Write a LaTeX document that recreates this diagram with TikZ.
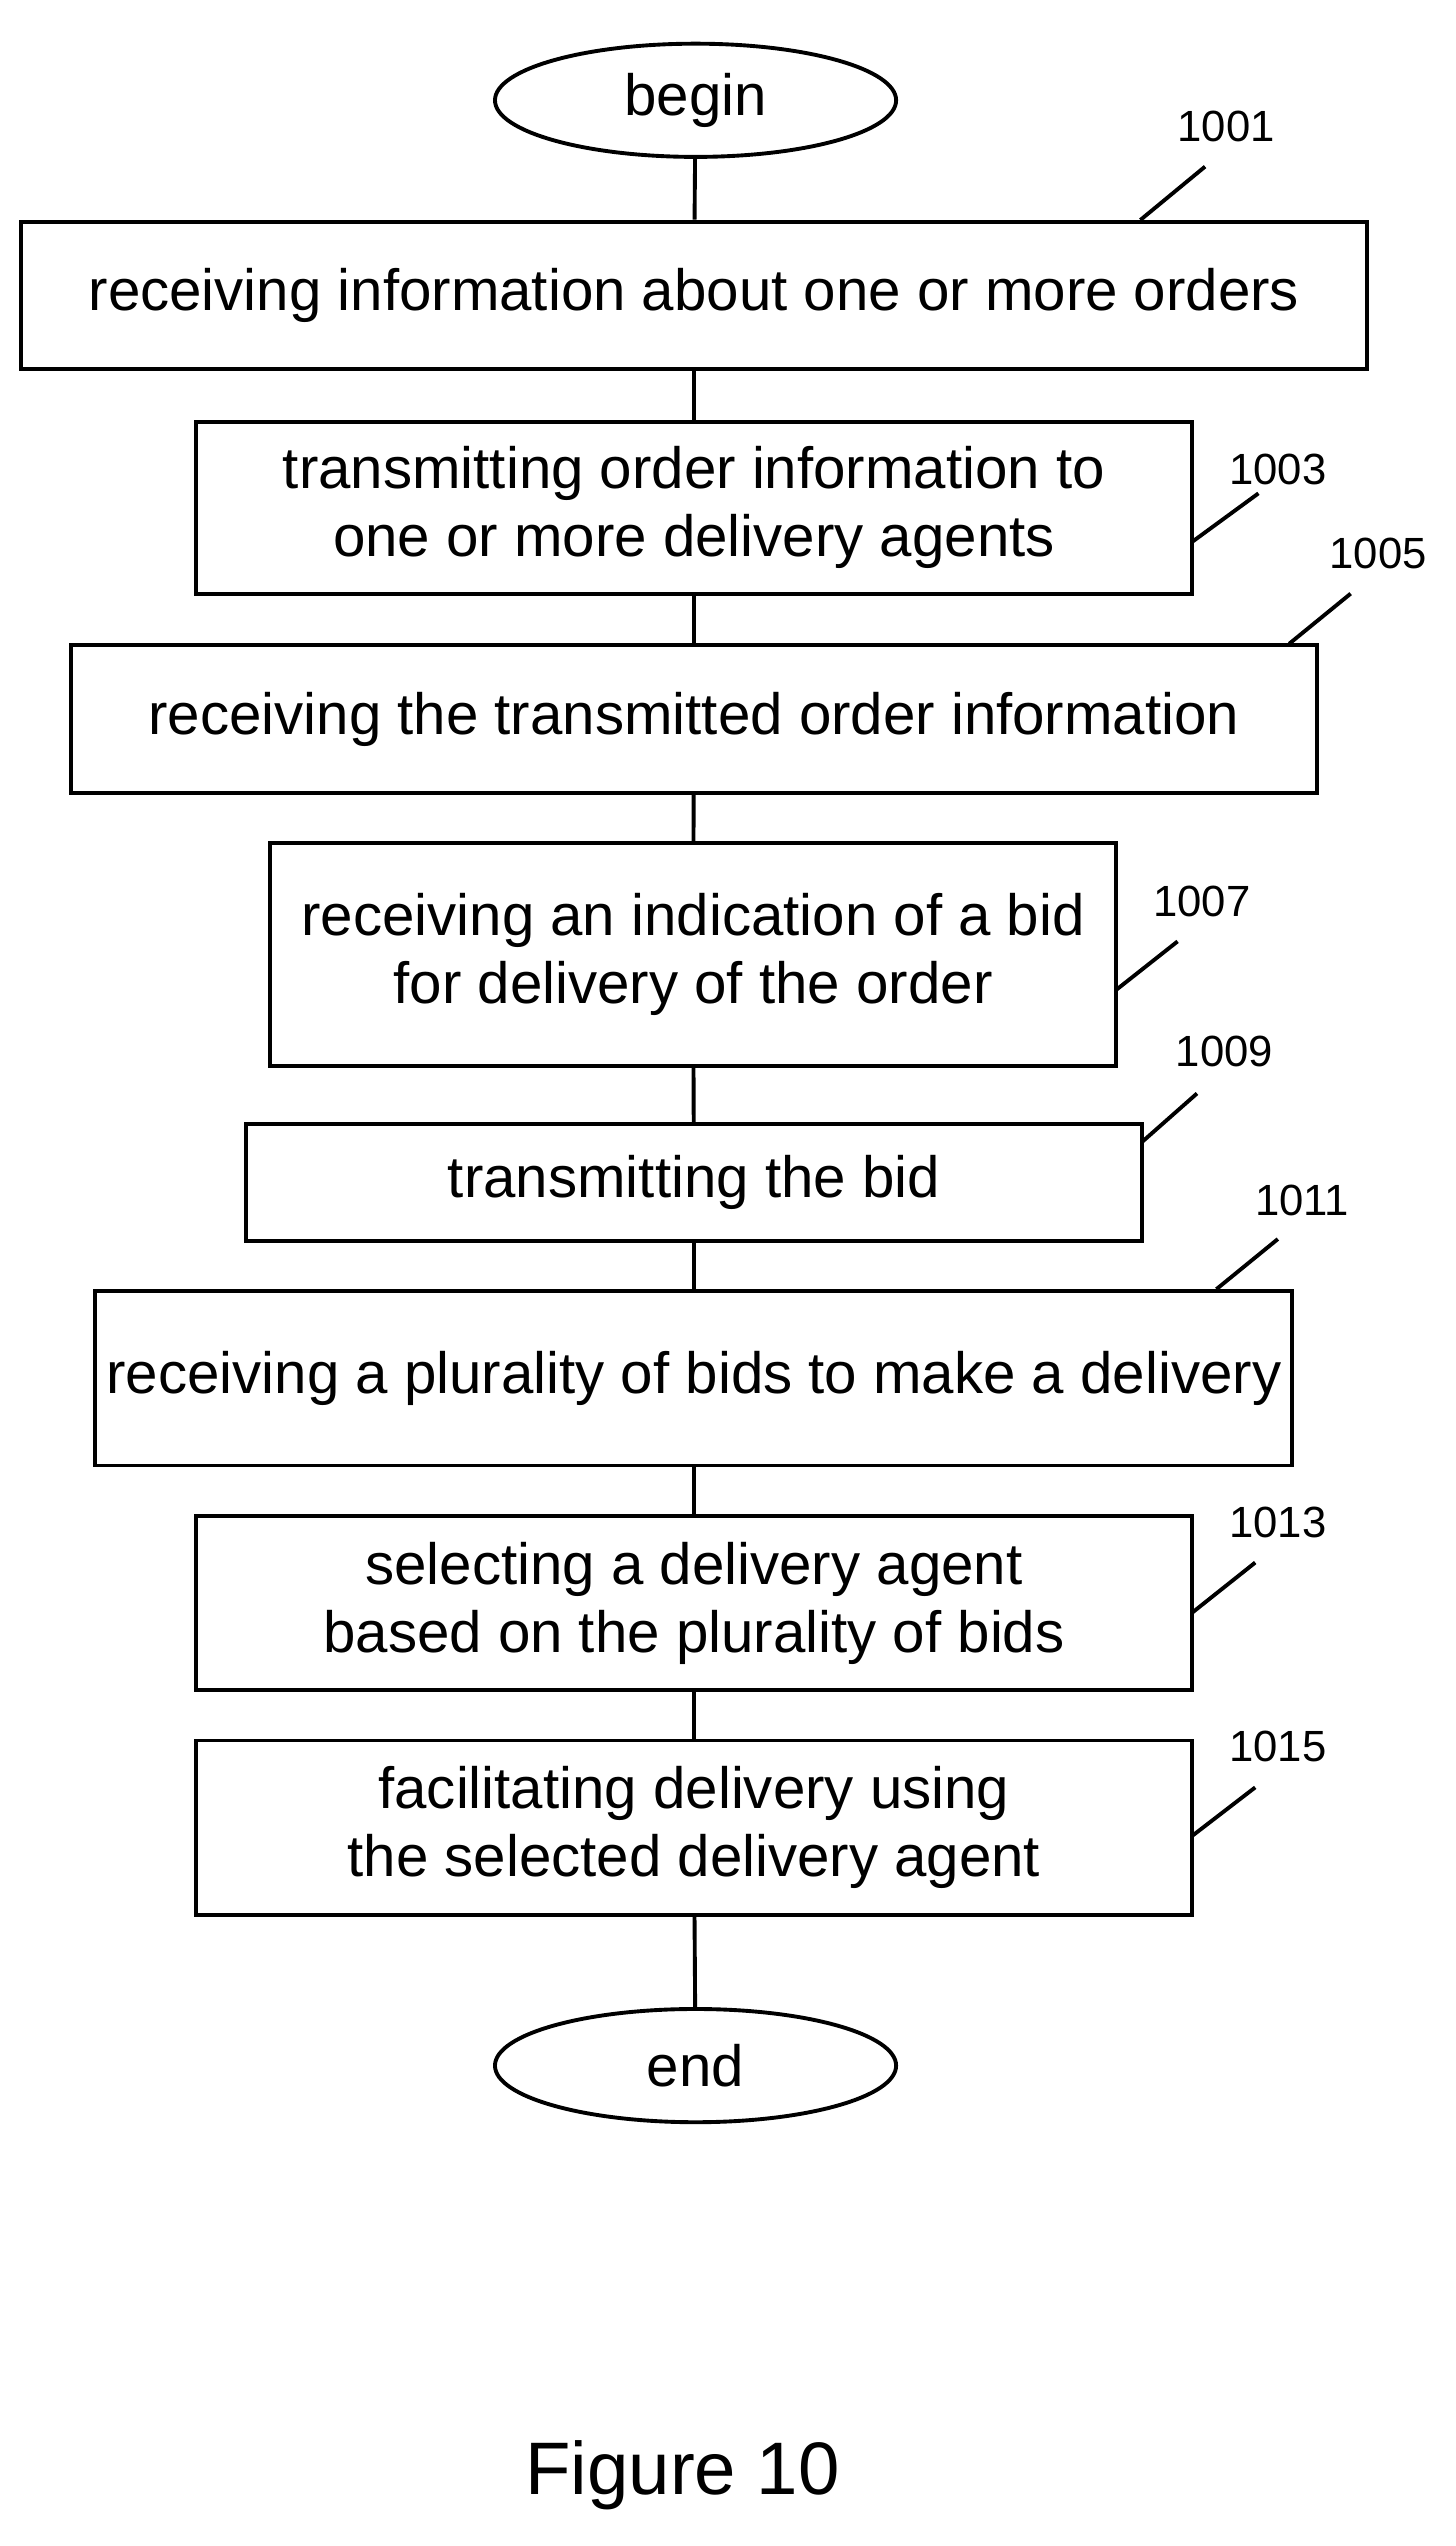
\documentclass[tikz,border=0pt]{standalone}
\usepackage{fontspec}
\setmainfont{Liberation Sans}
\usetikzlibrary{shapes.geometric}
\begin{document}
\begin{tikzpicture}[x=0.5pt,y=-0.5pt,
  box/.style={draw,line width=1.2pt,inner sep=0pt,align=center,font=\fontsize{18}{21}\selectfont},
  term/.style={draw,ellipse,line width=1.2pt,minimum width=124pt,minimum height=35pt,inner sep=0pt,font=\fontsize{18}{20}\selectfont},
  lab/.style={font=\fontsize{13.5}{15}\selectfont},
  every path/.style={line width=1.2pt}]
\useasboundingbox (0,0) rectangle (900,1574);
\node[term] (b) at (430,62) {begin};
\node[box,minimum width=416pt,minimum height=45.5pt] (n1) at (429,182.5) {receiving information about one or more orders};
\node[box,minimum width=308pt,minimum height=53pt] (n3) at (429,314) {transmitting order information to\\one or more delivery agents};
\node[box,minimum width=385pt,minimum height=45.5pt] (n5) at (429,444.5) {receiving the transmitted order information};
\node[box,minimum width=261.5pt,minimum height=69pt] (n7) at (428.5,590) {receiving an indication of a bid\\for delivery of the order};
\node[box,minimum width=277pt,minimum height=36pt] (n9) at (429,731) {transmitting the bid};
\node[box,minimum width=370pt,minimum height=54pt] (n11) at (429,852) {receiving a plurality of bids to make a delivery};
\node[box,minimum width=308pt,minimum height=54pt] (n13) at (429,991) {selecting a delivery agent\\based on the plurality of bids};
\node[box,minimum width=308pt,minimum height=54pt] (n15) at (429,1130) {facilitating delivery using\\the selected delivery agent};
\node[term] (e) at (430,1277) {end};
\draw (b) -- (n1); \draw (n1) -- (n3); \draw (n3) -- (n5); \draw (n5) -- (n7);
\draw (n7) -- (n9); \draw (n9) -- (n11); \draw (n11) -- (n13); \draw (n13) -- (n15); \draw (n15) -- (e);
\node[lab] (l1) at (758,78) {1001};
\node[lab] (l3) at (790,290) {1003};
\node[lab] (l5) at (852,342) {1005};
\node[lab] (l7) at (743,557) {1007};
\node[lab] (l9) at (757,650) {1009};
\node[lab] (l11) at (805,742) {1011};
\node[lab] (l13) at (790,941) {1013};
\node[lab] (l15) at (790,1080) {1015};
\coordinate (a1) at (705,136); \coordinate (c1) at (745,103);
\coordinate (a3) at (737,335); \coordinate (c3) at (778,305);
\coordinate (a5) at (797,398); \coordinate (c5) at (835,367);
\coordinate (a7) at (690,612); \coordinate (c7) at (728,582);
\coordinate (a9) at (706,706); \coordinate (c9) at (740,676);
\coordinate (a11) at (752,797); \coordinate (c11) at (790,766);
\coordinate (a13) at (737,997); \coordinate (c13) at (776,966);
\coordinate (a15) at (737,1135); \coordinate (c15) at (776,1105);
\foreach \i in {1,3,5,7,9,11,13,15} {\draw (a\i) -- (c\i);}
\node[font=\fontsize{23}{26}\selectfont] (fig) at (422,1530) {Figure 10};
\end{tikzpicture}
\end{document}
